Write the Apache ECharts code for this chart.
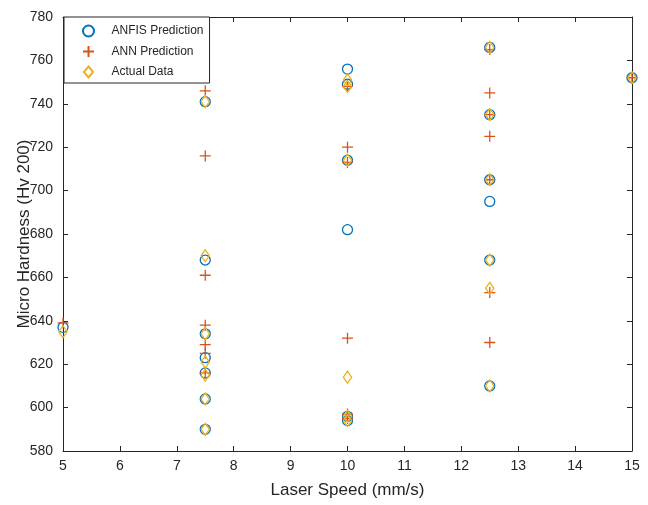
<!DOCTYPE html>
<html>
<head>
<meta charset="utf-8">
<script src="https://cdn.jsdelivr.net/npm/echarts@6/dist/echarts.min.js"></script>
<style>
html,body{margin:0;padding:0;background:#fff;}
#chart{width:648px;height:505px;}
</style>
</head>
<body>
<div id="chart"></div>
<script>
// Data
var seriesNames = ['ANFIS Prediction', 'ANN Prediction', 'Actual Data'];

var anfisX = [5, 7.5, 7.5, 7.5, 7.5, 7.5, 7.5, 7.5, 10, 10, 10, 10, 10, 10, 12.5, 12.5, 12.5, 12.5, 12.5, 12.5, 15];
var anfisY = [637, 741, 668, 634, 623, 616, 604, 590, 756, 749, 714, 682, 596, 594, 766, 735, 705, 695, 668, 610, 752];

var annX = [5, 7.5, 7.5, 7.5, 7.5, 7.5, 7.5, 7.5, 10, 10, 10, 10, 10, 10, 12.5, 12.5, 12.5, 12.5, 12.5, 12.5, 12.5, 15];
var annY = [639, 746, 716, 661, 638, 629, 625, 616, 748, 720, 713, 632, 597, 595, 765, 745, 735, 725, 705, 653, 630, 752];

var actualX = [5, 7.5, 7.5, 7.5, 7.5, 7.5, 7.5, 7.5, 10, 10, 10, 10, 10, 10, 12.5, 12.5, 12.5, 12.5, 12.5, 12.5, 15];
var actualY = [635, 741, 670, 634, 621, 615, 604, 590, 751, 748, 714, 614, 596, 594, 766, 735, 705, 668, 655, 610, 752];

var xTicks = [5, 6, 7, 8, 9, 10, 11, 12, 13, 14, 15];
var yTicks = [580, 600, 620, 640, 660, 680, 700, 720, 740, 760, 780];

function pairs(xs, ys) {
  return xs.map(function (x, i) { return [x, ys[i]]; });
}

var FONT = "'Liberation Sans', Arial, Helvetica, sans-serif";
var INK = '#262626';
var colors = ['#0072BD', '#D95319', '#EDB120'];

var chart = echarts.init(document.getElementById('chart'), null, {renderer: 'canvas'});

var axisCommon = {
  axisLine: {show: true, onZero: false, lineStyle: {color: INK, width: 1}},
  axisTick: {show: true, inside: true, length: 5, lineStyle: {color: INK}},
  splitLine: {show: false}
};

var option = {
  backgroundColor: '#ffffff',
  animation: false,
  grid: {left: 63, right: 16, top: 17, bottom: 54, containLabel: false},
  legend: {
    show: true,
    orient: 'vertical',
    left: 64,
    top: 17,
    data: seriesNames,
    itemWidth: 36,
    itemHeight: 11,
    itemGap: 6.5,
    symbolKeepAspect: true,
    padding: [7, 6, 4, 18],
    borderColor: INK,
    borderWidth: 1,
    backgroundColor: '#ffffff',
    textStyle: {fontFamily: FONT, fontSize: 12, color: INK, lineHeight: 14}
  },
  xAxis: [
    Object.assign({
      type: 'value', min: xTicks[0], max: xTicks[xTicks.length - 1], interval: 1,
      position: 'bottom',
      name: 'Laser Speed (mm/s)', nameLocation: 'middle', nameGap: 31,
      nameMoveOverlap: false,
      nameTextStyle: {fontFamily: FONT, fontSize: 17, color: INK},
      axisLabel: {fontFamily: FONT, fontSize: 14, color: INK, margin: 8}
    }, axisCommon),
    Object.assign({
      type: 'value', min: xTicks[0], max: xTicks[xTicks.length - 1], interval: 1,
      position: 'top',
      axisLabel: {show: false}
    }, axisCommon)
  ],
  yAxis: [
    Object.assign({
      type: 'value', min: yTicks[0], max: yTicks[yTicks.length - 1], interval: 20,
      position: 'left',
      name: 'Micro Hardness (Hv 200)', nameLocation: 'middle', nameGap: 30,
      nameMoveOverlap: false,
      nameTextStyle: {fontFamily: FONT, fontSize: 17, color: INK},
      axisLabel: {fontFamily: FONT, fontSize: 14, color: INK, margin: 10}
    }, axisCommon),
    Object.assign({
      type: 'value', min: yTicks[0], max: yTicks[yTicks.length - 1], interval: 20,
      position: 'right',
      axisLabel: {show: false}
    }, axisCommon)
  ],
  series: [
    {
      name: seriesNames[0], type: 'scatter', xAxisIndex: 0, yAxisIndex: 0,
      symbol: 'circle', symbolSize: 10,
      itemStyle: {color: 'rgba(255,255,255,0)', borderColor: colors[0], borderWidth: 1.3, opacity: 1},
      data: pairs(anfisX, anfisY), z: 2
    },
    {
      name: seriesNames[1], type: 'scatter', xAxisIndex: 0, yAxisIndex: 0,
      symbol: 'path://M5,0L5,10M0,5L10,5', symbolSize: 11,
      itemStyle: {color: 'rgba(255,255,255,0)', borderColor: colors[1], borderWidth: 1.3, opacity: 1},
      data: pairs(annX, annY), z: 3
    },
    {
      name: seriesNames[2], type: 'scatter', xAxisIndex: 0, yAxisIndex: 0,
      symbol: 'path://M5,0L10,6L5,12L0,6Z', symbolSize: [10, 12], symbolKeepAspect: true,
      itemStyle: {color: 'rgba(255,255,255,0)', borderColor: colors[2], borderWidth: 1.3, opacity: 1},
      data: pairs(actualX, actualY), z: 4
    }
  ]
};

chart.setOption(option);
</script>
</body>
</html>
